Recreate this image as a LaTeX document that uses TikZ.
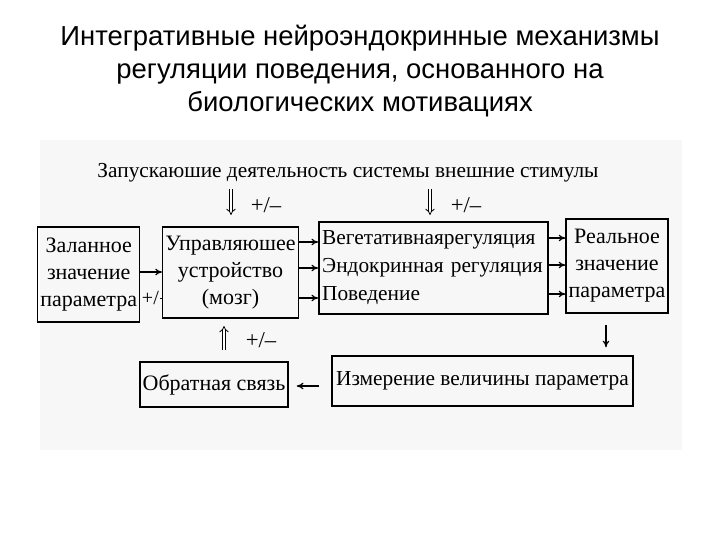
\documentclass[tikz,border=0pt]{standalone}
\usepackage{fontspec}
\setmainfont{Liberation Serif}
\newfontfamily\titlefont{Liberation Sans}
\usetikzlibrary{arrows.meta}

\tikzset{every picture/.style={line width=0.75pt}}
\tikzset{
blk/.style={draw, line width=1.1pt, inner sep=2pt, align=center, font=\fontsize{16.5}{20.3}\selectfont},
arr/.style={-{To[length=5pt,width=5pt]}, line width=0.9pt},
dbl/.style={double, double distance=1.8pt, line width=0.6pt, -{Implies}},
pm/.style={inner sep=0.75pt, font=\fontsize{17}{18}\selectfont}}

\begin{document}
\begin{tikzpicture}[x=0.75pt,y=0.75pt,yscale=-1,xscale=1]
\useasboundingbox (0,0) rectangle (720,540);

%Shape: Rectangle (scan background)
\fill [black!3] (40,140) rectangle (682,450);

% Text Node
\node (title) at (360,71) [align=center, font=\titlefont\fontsize{20.6}{24.75}\selectfont] {Интегративные нейроэндокринные механизмы\\регуляции поведения, основанного на\\биологических мотивациях};
% Text Node
\node (stim) at (348,173) [inner sep=0.75pt, font=\fontsize{16}{20}\selectfont] {Запускаюшие деятельность системы внешние стимулы};

%Shape: Rectangle [set value]
\node (set) at (88.75,274.5) [blk, minimum width=72.4pt, minimum height=71.3pt] {Заланное\\значение\\параметра};
%Shape: Rectangle [control]
\node (ctrl) at (230.5,272.5) [blk, minimum width=98.3pt, minimum height=68.3pt] {Управляюшее\\устройство\\(мозг)};
%Shape: Rectangle [regulation]
\node (reg) at (433.5,268) [blk, align=left, text width=167pt, inner xsep=2.5pt, minimum height=69pt, font=\fontsize{16}{21}\selectfont] {Вегетативнаярегуляция\\Эндокринная регуляция\\Поведение};
%Shape: Rectangle [real value]
\node (real) at (617,266) [blk, minimum width=72.8pt, minimum height=70.5pt] {Реальное\\значение\\параметра};
%Shape: Rectangle [measure]
\node (meas) at (482.5,381) [blk, minimum width=225.8pt, minimum height=37.5pt, font=\fontsize{16}{20}\selectfont] {Измерение величины параметра};
%Shape: Rectangle [feedback]
\node (fb) at (214,384.5) [blk, minimum width=111pt, minimum height=33.75pt] {Обратная связь};

% Coordinates for the free ends
\coordinate (inA) at (231,189);
\coordinate (inB) at (430,189);
\coordinate (upA) at (224,350);
\coordinate (outR) at (606,325);

% Double arrows with +/-
\draw [dbl] (inA) -- (inA |- 0,215);
\node (pmA) at (266,205) [pm] {+/--};
\draw [dbl] (inB) -- (inB |- 0,215);
\node (pmB) at (466,205) [pm] {+/--};
\draw [dbl] (upA) -- (upA |- 0,326);
\node (pmC) at (261,340) [pm] {+/--};

% Set value -> control
\draw [arr] (set.east |- 0,272) -- (ctrl.west |- 0,272);
\node (pmD) at (set.east |- 0,298) [pm, anchor=west, font=\fontsize{15}{16}\selectfont] {+/};
\draw (pmD.east) -- (ctrl.west |- pmD.east);

% Control -> regulation
\foreach \yy in {242,268,298}
  \draw [arr] (ctrl.east |- 0,\yy) -- (reg.west |- 0,\yy);
% Regulation -> real value
\foreach \yy in {238,265,294}
  \draw [arr] (reg.east |- 0,\yy) -- (real.west |- 0,\yy);

% Real value -> measure -> feedback
\draw [arr, shorten >=6pt] (outR) -- (meas.north -| outR);
\draw [arr, shorten <=9pt, shorten >=6pt] (meas.west |- 0,386) -- (fb.east |- 0,386);

\end{tikzpicture}
\end{document}
